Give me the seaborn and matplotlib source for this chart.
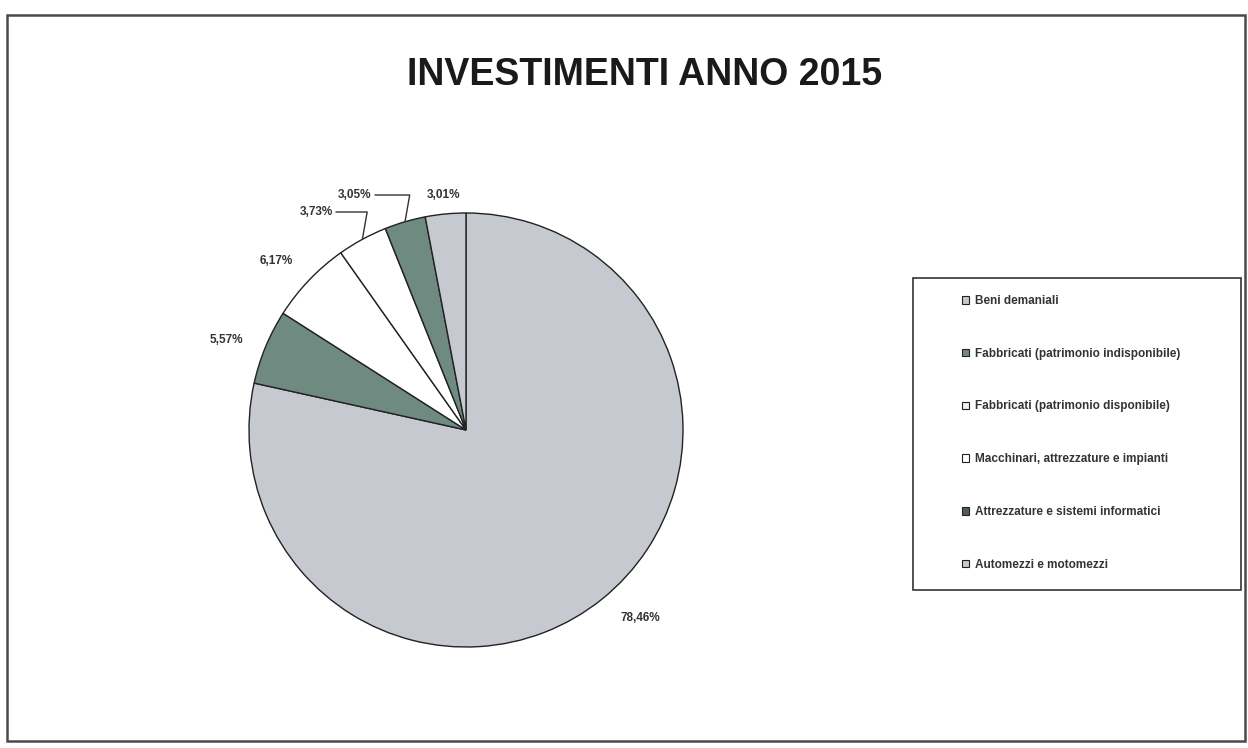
import matplotlib
matplotlib.use("Agg")
import matplotlib.pyplot as plt
from matplotlib.patches import Rectangle, Patch
import numpy as np
import seaborn as sns

# Investment categories and their share of the 2015 total (%)
categories = [
    "Beni demaniali",
    "Fabbricati (patrimonio indisponibile)",
    "Fabbricati (patrimonio disponibile)",
    "Macchinari, attrezzature e impianti",
    "Attrezzature e sistemi informatici",
    "Automezzi e motomezzi",
]
# slice order around the pie (clockwise from 12 o'clock)
slice_values = [78.46, 5.57, 6.17, 3.73, 3.05, 3.01]
slice_colors = ["#c6cad0", "#6f8a80", "#ffffff", "#ffffff", "#6f8a80", "#c6cad0"]
legend_colors = ["#c6cad0", "#6f8a80", "#eef0f0", "#ffffff", "#4f5f58", "#c6cad0"]
title_text = "INVESTIMENTI ANNO 2015"

sns.set_theme(style="white")
plt.rcParams["font.family"] = ["Liberation Sans", "DejaVu Sans"]

W, H = 1248, 748
fig = plt.figure(figsize=(W / 100, H / 100), dpi=100)
fig.patch.set_facecolor("white")

# outer chart frame
fig.patches.append(Rectangle((7 / W, 1 - 741 / H), (1245 - 7) / W, (741 - 15) / H,
                             transform=fig.transFigure, fill=False,
                             edgecolor="#4a4a4a", linewidth=1.8))

fig.text(645 / W, 1 - 75 / H, title_text, ha="center", va="center",
         fontsize=27, fontweight="bold", color="#1a1a1a")

# pie axes: center (466, 430) px, radius 217 px
R = 217
half = 300
ax = fig.add_axes([(466 - half) / W, (H - 430 - half) / H, 2 * half / W, 2 * half / H])

wedges, _ = ax.pie(slice_values, colors=slice_colors, startangle=90, counterclock=False,
                   radius=1.0, wedgeprops=dict(edgecolor="#222222", linewidth=1.0))
ax.set_xlim(-half / R, half / R)
ax.set_ylim(-half / R, half / R)
ax.set_aspect("equal")
ax.axis("off")

def fmt(v):
    return f"{v:.2f}".replace(".", ",") + "%"

lab_kw = dict(fontsize=8.5, fontweight="bold", color="#333333")
# per-label nudges (degrees, radius) for the outside labels
label_shift = {0: (4.0, 1.18), 1: (2.0, 1.18), 2: (2.0, 1.17), 5: (0.0, 1.09)}
# text anchors (px) for the labels with leader lines
leader_text = {3: (316, 212), 4: (355, 195)}

for i, (w, v) in enumerate(zip(wedges, slice_values)):
    mid = (w.theta1 + w.theta2) / 2
    if i in leader_text:
        t = np.deg2rad(mid)
        px, py = leader_text[i]
        ax.annotate(fmt(v), xy=(np.cos(t), np.sin(t)),
                    xytext=((px - 466) / R, (430 - py) / R), ha="center", va="center",
                    arrowprops=dict(arrowstyle="-", color="#333333", lw=1.0,
                                    shrinkA=0, shrinkB=0,
                                    connectionstyle="angle,angleA=0,angleB=80,rad=0",
                                    relpos=(1.0, 0.5)),
                    **lab_kw)
    else:
        d, r = label_shift[i]
        t = np.deg2rad(mid + d)
        ax.text(r * np.cos(t), r * np.sin(t), fmt(v), ha="center", va="center", **lab_kw)

# legend box
fig.patches.append(Rectangle((913 / W, 1 - 590 / H), (1241 - 913) / W, (590 - 278) / H,
                             transform=fig.transFigure, fill=False,
                             edgecolor="#333333", linewidth=1.2))
handles = [Patch(facecolor=c, edgecolor="#222222", linewidth=0.8) for c in legend_colors]
fig.legend(handles, categories, loc="upper left",
           bbox_to_anchor=(962 / W, 1 - 295 / H), frameon=False,
           prop=dict(weight="bold", size=8.5),
           handlelength=0.6, handleheight=0.6, handletextpad=0.5,
           labelspacing=3.45, borderaxespad=0, borderpad=0,
           labelcolor="#333333")

fig.savefig("out.png", dpi=100, facecolor="white")
